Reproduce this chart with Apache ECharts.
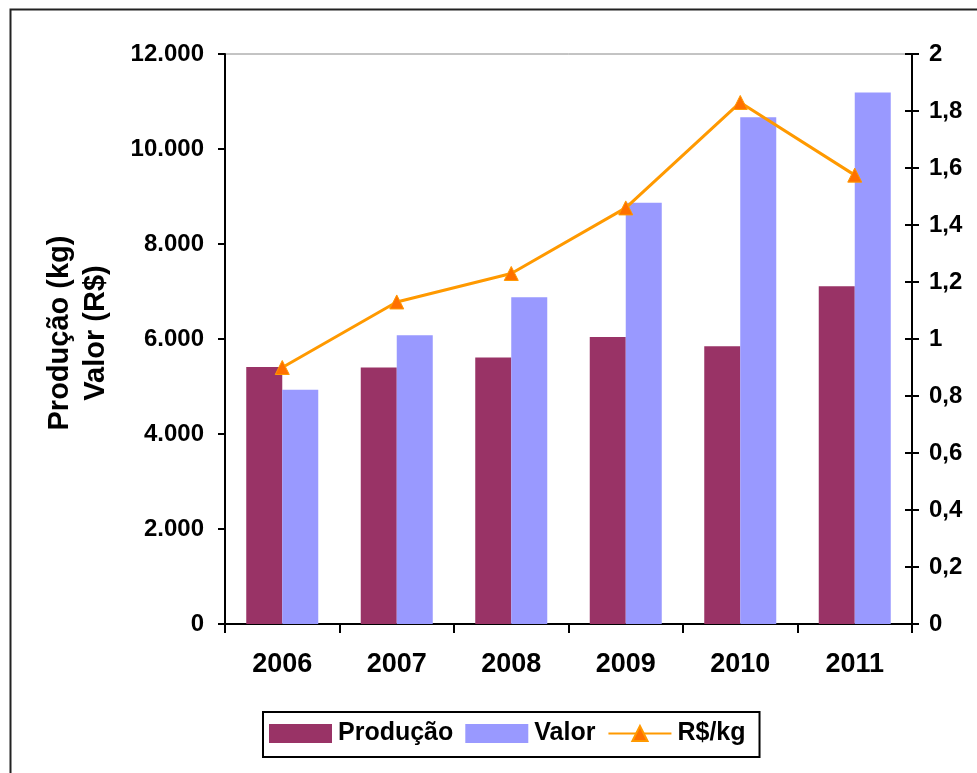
<!DOCTYPE html>
<html>
<head>
<meta charset="utf-8">
<script src="https://cdn.jsdelivr.net/npm/echarts@6/dist/echarts.min.js"></script>
<style>
html,body{margin:0;padding:0;background:#fff;}
#chart{width:977px;height:773px;}
</style>
</head>
<body>
<div id="chart"></div>
<script>
const categories = ['2006','2007','2008','2009','2010','2011'];
const producao = [5410, 5400, 5610, 6040, 5850, 7110];
const valor = [4930, 6080, 6880, 8870, 10670, 11190];
const rsPorKg = [0.90, 1.13, 1.23, 1.46, 1.83, 1.575];
const leftTicks = { min: 0, max: 12000, interval: 2000 };
const rightTicks = { min: 0, max: 2, interval: 0.2 };

const FONT = '"Liberation Sans", Arial, sans-serif';
const chart = echarts.init(document.getElementById('chart'), null, {renderer: 'canvas'});

function fmtLeft(v) {
  return String(Math.round(v)).replace(/\B(?=(\d{3})+(?!\d))/g, '.');
}
function fmtRight(v) {
  return String(parseFloat(v.toFixed(1))).replace('.', ',');
}

const option = {
  backgroundColor: '#fff',
  animation: false,
  graphic: [
    {
      type: 'rect', left: 8, top: 7, silent: true,
      shape: { x: 0, y: 0, width: 1100, height: 1000 },
      style: { fill: 'none', stroke: '#222', lineWidth: 2 }
    },
    {
      type: 'text', silent: true,
      x: 78, y: 333, rotation: Math.PI / 2,
      style: {
        text: 'Produção (kg)\nValor (R$)',
        font: 'bold 29px ' + FONT,
        fill: '#000',
        align: 'center',
        verticalAlign: 'middle',
        lineHeight: 36
      }
    }
  ],
  grid: {
    left: 225, right: 65, top: 54, bottom: 149,
    show: true, borderColor: '#888', borderWidth: 1, backgroundColor: 'transparent'
  },
  legend: {
    left: 263, top: 712,
    padding: [9, 14, 11, 6],
    borderColor: '#000', borderWidth: 2,
    itemWidth: 63, itemHeight: 19, itemGap: 12,
    textStyle: { fontFamily: FONT, fontWeight: 'bold', fontSize: 25, color: '#000', padding: [0, 0, 0, 1] },
    data: [
      { name: 'Produção', icon: 'rect' },
      { name: 'Valor', icon: 'rect' },
      { name: 'R$/kg' }
    ]
  },
  xAxis: {
    type: 'category',
    data: categories,
    axisLine: { lineStyle: { color: '#000', width: 2 } },
    axisTick: { show: true, length: 9, lineStyle: { color: '#000', width: 2 } },
    axisLabel: { fontFamily: FONT, fontWeight: 'bold', fontSize: 27, color: '#000', margin: 27 },
    splitLine: { show: false }
  },
  yAxis: [
    {
      type: 'value', position: 'left',
      min: leftTicks.min, max: leftTicks.max, interval: leftTicks.interval,
      axisLine: { show: true, lineStyle: { color: '#000', width: 2 } },
      axisTick: { show: true, length: 7, lineStyle: { color: '#000', width: 2 } },
      axisLabel: { fontFamily: FONT, fontWeight: 'bold', fontSize: 24, color: '#000', margin: 21, formatter: fmtLeft },
      splitLine: { show: false }
    },
    {
      type: 'value', position: 'right',
      min: rightTicks.min, max: rightTicks.max, interval: rightTicks.interval,
      axisLine: { show: true, lineStyle: { color: '#000', width: 2 } },
      axisTick: { show: true, length: 7, lineStyle: { color: '#000', width: 2 } },
      axisLabel: { fontFamily: FONT, fontWeight: 'bold', fontSize: 24, color: '#000', margin: 17, formatter: fmtRight },
      splitLine: { show: false }
    },
    {
      type: 'value', position: 'right', offset: 0,
      min: rightTicks.min, max: rightTicks.max, interval: rightTicks.interval,
      axisLine: { show: false },
      axisTick: { show: true, inside: true, length: 7, lineStyle: { color: '#000', width: 2 } },
      axisLabel: { show: false },
      splitLine: { show: false }
    }
  ],
  series: [
    {
      name: 'Produção', type: 'bar', yAxisIndex: 0,
      data: producao, barWidth: 36, barGap: '0%',
      itemStyle: { color: '#993366' }
    },
    {
      name: 'Valor', type: 'bar', yAxisIndex: 0,
      data: valor, barWidth: 36, barGap: '0%',
      itemStyle: { color: '#9999FF' }
    },
    {
      name: 'R$/kg', type: 'line', yAxisIndex: 1,
      data: rsPorKg,
      symbol: 'triangle', symbolSize: 14,
      lineStyle: { color: '#FF9900', width: 3 },
      itemStyle: { color: '#FF7000', borderColor: '#FF9900', borderWidth: 1 }
    }
  ]
};
chart.setOption(option);
</script>
</body>
</html>
